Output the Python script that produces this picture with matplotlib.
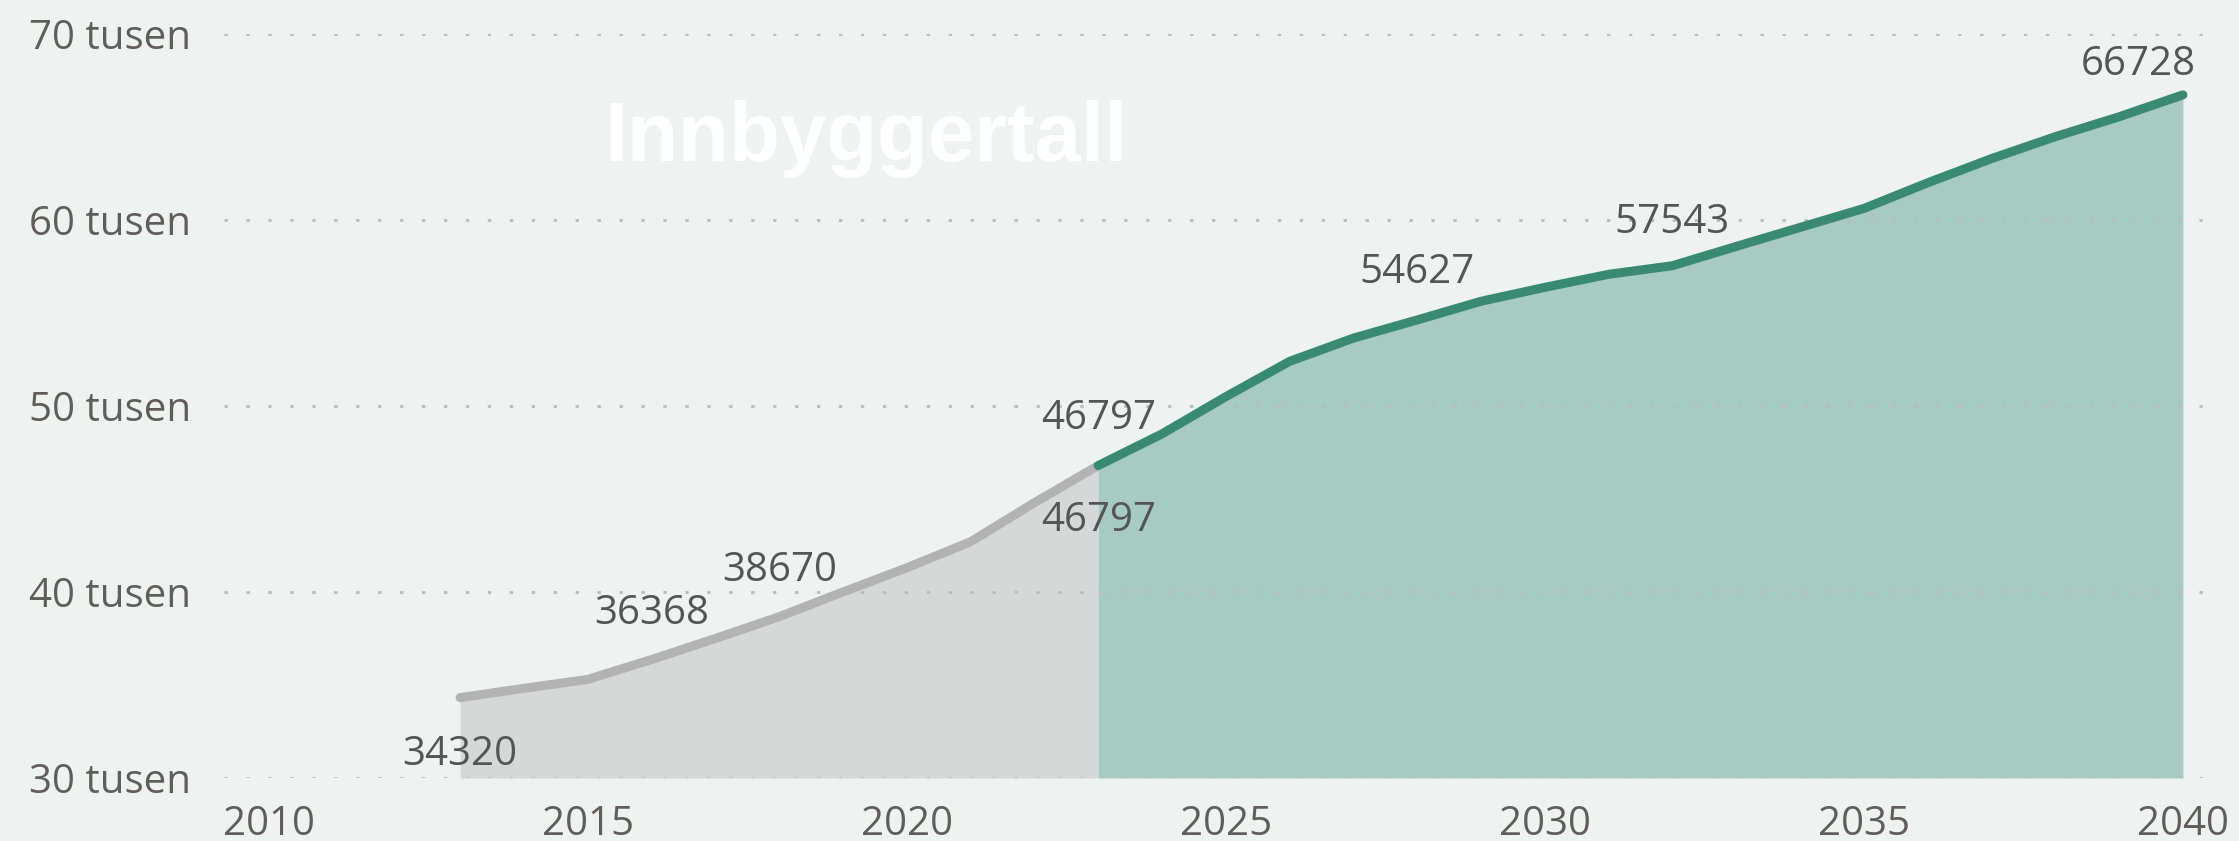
import matplotlib.pyplot as plt
from matplotlib.ticker import FixedLocator

# historic (grey) and projected (green) population
years_hist = [2013, 2014, 2015, 2016, 2017, 2018, 2019, 2020, 2021, 2022, 2023]
pop_hist = [34320, 34820, 35300, 36368, 37500, 38670, 40000, 41300, 42700, 44800, 46797]

years_proj = [2023, 2024, 2025, 2026, 2027, 2028, 2029, 2030, 2031, 2032,
              2033, 2034, 2035, 2036, 2037, 2038, 2039, 2040]
pop_proj = [46797, 48500, 50500, 52400, 53650, 54627, 55630, 56380, 57080, 57543,
            58580, 59600, 60620, 62000, 63300, 64480, 65550, 66728]

# which points get a data label
label_hist = [2013, 2016, 2018, 2023]
label_proj = [2023, 2028, 2032, 2040]

y_ticks = [30000, 40000, 50000, 60000, 70000]
y_labels = ['30 tusen', '40 tusen', '50 tusen', '60 tusen', '70 tusen']
x_ticks = [2010, 2015, 2020, 2025, 2030, 2035, 2040]

bg = '#eef3f1'
plt.rcParams['font.family'] = ['Open Sans', 'DejaVu Sans']

fig = plt.figure(figsize=(22.39, 8.41), dpi=100, facecolor=bg)
ax = fig.add_axes([224 / 2239, 63 / 841, 1994 / 2239, 744 / 841])
ax.set_facecolor(bg)

ax.fill_between(years_hist, pop_hist, 30000, color='#d6d8d7', lw=0, zorder=1)
ax.fill_between(years_proj, pop_proj, 30000, color='#a7cac3', lw=0, zorder=1)
ax.plot(years_hist, pop_hist, color='#b2b3b2', lw=6.5, solid_capstyle='round',
        solid_joinstyle='round', zorder=3)
ax.plot(years_proj, pop_proj, color='#3a8a72', lw=6.5, solid_capstyle='round',
        solid_joinstyle='round', zorder=4)

for v in y_ticks:
    ax.axhline(v, color='#b8bdbb', lw=2, dashes=(1.2, 6.7), zorder=2)

ax.set_xlim(2009.3, 2040.55)
ax.set_ylim(30000, 70000)
ax.yaxis.set_major_locator(FixedLocator(y_ticks))
ax.set_yticklabels(y_labels)
ax.xaxis.set_major_locator(FixedLocator(x_ticks))
ax.tick_params(length=0, labelsize=29, colors='#605e5c')
ax.tick_params(axis='y', pad=24)
ax.tick_params(axis='x', pad=19)
for s in ax.spines.values():
    s.set_visible(False)

lab_kw = dict(textcoords='offset points', ha='center', va='center',
              fontsize=29, color='#555555', zorder=5)
for yr, off in zip(label_hist, [-41, 33, 33, -40]):
    v = pop_hist[years_hist.index(yr)]
    ax.annotate(str(v), (yr, v), xytext=(0, off), **lab_kw)
for yr, dx, dy in zip(label_proj, [0, 0, 0, -32], [34, 34, 31, 22]):
    v = pop_proj[years_proj.index(yr)]
    ax.annotate(str(v), (yr, v), xytext=(dx, dy), **lab_kw)

fig.text(866 / 2239, 1 - 161 / 841, 'Innbyggertall', ha='center', va='baseline',
         fontsize=60, fontweight='bold', color='white', family='Liberation Sans')

fig.savefig('out.png', dpi=100, facecolor=bg)
